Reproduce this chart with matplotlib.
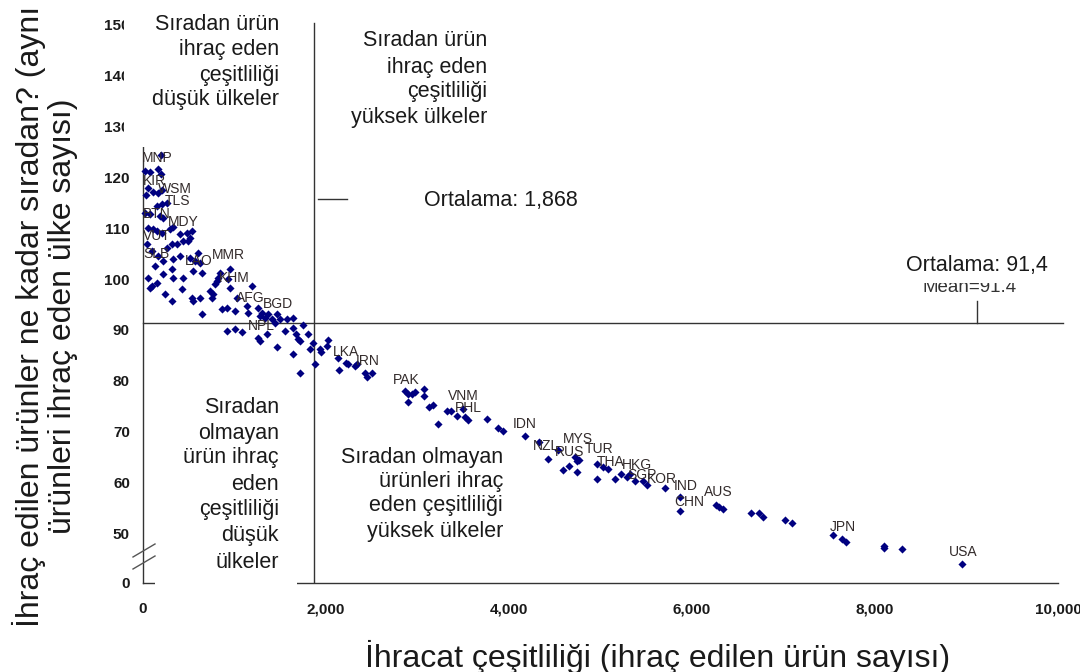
import matplotlib
matplotlib.use('Agg')
import matplotlib.pyplot as plt
from matplotlib.patches import Rectangle
from matplotlib.lines import Line2D

plt.rcParams['font.family'] = ['Liberation Sans', 'DejaVu Sans']

# ---------------- data ----------------
diversity = [
    197, 22, 77, 164, 197, 55, 109, 33, 164, 208, 262, 208, 153, 22, 77, 186, 219,
    55, 109, 153, 208, 295, 328, 404, 481, 536, 437, 492, 514, 372, 44, 98, 262, 317,
    164, 219, 131, 328, 404, 514, 601, 568, 623, 645, 547, 437, 317, 219, 55, 98, 77,
    153, 328, 240, 317, 426, 536, 547, 623, 645, 732, 765, 754, 842, 820, 787, 809,
    951, 929, 951, 863, 918, 1005, 1027, 1191, 1257, 1301, 1279, 1366, 1334, 1410,
    1465, 1498, 1574, 1640, 1443, 1137, 1148,
    918, 1005, 1082, 1279, 1257, 1355, 1465, 1552, 1640, 1672, 1694, 1716, 1749, 1640,
    1716, 1803, 1858, 1825, 1880, 1935, 1946, 2022, 2011, 2131, 2219, 2241, 2142, 2317,
    2339, 2426, 2448, 2503,
    2864, 2896, 2940, 2973, 2896, 3071, 3071, 3126, 3170, 3224, 3323, 3367, 3432, 3498,
    3520, 3553, 3760, 3880, 3935, 4175,
    4328, 4426, 4536, 4590, 4656, 4721, 4743, 4765, 4743, 4962, 4962, 5027, 5082, 5159,
    5224, 5290, 5323, 5377, 5465, 5508, 5705, 5869, 5869, 6263, 6296, 6339, 6645, 6733,
    6777, 7017, 7093, 7541, 7640, 7684, 8099, 8099, 8296, 8952,
]
ubiquity = [
    124.3, 121.3, 121.1, 121.5, 120.7, 117.8, 117.0, 116.4, 116.8, 117.4, 115.0, 114.8,
    114.4, 113.0, 112.8, 112.4, 112.0, 110.1, 109.9, 109.5, 109.1, 109.9, 110.3, 108.9,
    109.1, 109.5, 107.5, 107.5, 108.1, 106.9, 106.9, 105.6, 106.1, 106.9, 104.6, 103.6,
    102.6, 104.0, 104.6, 104.2, 105.2, 103.6, 103.2, 101.2, 101.6, 100.2, 102.0, 101.0,
    100.2, 98.7, 98.3, 99.3, 100.2, 97.1, 95.7, 98.1, 96.3, 95.7, 96.3, 93.2, 97.7, 97.1,
    96.3, 101.2, 100.2, 99.1, 99.6, 102.0, 100.0, 98.3, 94.1, 94.3, 93.7, 96.3, 98.7,
    94.3, 93.3, 92.8, 93.2, 92.4, 92.2, 93.2, 92.2, 92.2, 92.4, 91.4, 94.7, 93.3,
    89.8, 90.2, 89.6, 87.8, 88.4, 89.2, 86.7, 89.8, 90.4, 89.2, 88.2, 87.8, 91.0, 85.3,
    81.5, 89.2, 87.4, 86.3, 83.3, 86.3, 85.7, 88.0, 86.8, 84.5, 83.5, 83.3, 82.1, 82.9,
    83.3, 81.5, 80.7, 81.5,
    78.0, 77.4, 77.4, 77.8, 75.8, 78.4, 77.0, 74.8, 75.2, 71.5, 74.1, 74.1, 73.1, 74.4,
    72.9, 72.3, 72.5, 70.7, 70.1, 69.1,
    68.1, 64.6, 66.4, 62.6, 63.4, 65.0, 64.2, 64.4, 62.2, 60.7, 63.8, 63.2, 62.8, 60.7,
    61.8, 61.1, 61.8, 60.3, 60.3, 59.5, 58.9, 57.3, 54.4, 55.7, 55.3, 54.9, 54.0, 54.0,
    53.4, 52.8, 52.2, 49.8, 49.0, 48.4, 47.7, 47.3, 47.1, 44.1,
]

label_codes = ['MNP', 'KIR', 'WSM', 'TLS', 'BTN', 'MDY', 'VUT', 'SLB', 'LAO', 'MMR',
               'KHM', 'AFG', 'BGD', 'NPL', 'LKA', 'IRN', 'PAK', 'VNM', 'PHL', 'IDN',
               'NZL', 'MYS', 'RUS', 'TUR', 'THA', 'HKG', 'SGP', 'KOR', 'IND', 'CHN',
               'AUS', 'JPN', 'USA']
label_x = [-10, 0, 164, 240, 0, 273, 0, 0, 459, 754, 831, 1017, 1312, 1148, 2077, 2328,
           2733, 3334, 3410, 4044, 4263, 4591, 4503, 4831, 4962, 5235, 5290, 5509, 5804,
           5804, 6132, 7509, 8810]
label_y = [123.7, 119.3, 117.6, 115.4, 112.8, 111.1, 108.5, 105.0, 103.6, 104.8, 100.2,
           96.3, 95.1, 90.8, 85.7, 83.9, 80.2, 77.0, 74.6, 71.5, 67.2, 68.7, 66.0, 66.6,
           64.0, 63.6, 61.6, 60.7, 59.3, 56.3, 58.3, 51.4, 46.5]

mean_diversity = 1868
mean_ubiquity = 91.4

x_ticks = [0, 2000, 4000, 6000, 8000, 10000]
x_tick_labels = ['0', '2,000', '4,000', '6,000', '8,000', '10,000']
y_ticks = [40.35, 50, 60, 70, 80, 90, 100, 110, 120, 130, 140, 150]
y_tick_labels = ['0', '50', '60', '70', '80', '90', '100', '110', '120', '130', '140', '150']

x_label = 'İhracat çeşitliliği (ihraç edilen ürün sayısı)'
y_label = 'İhraç edilen ürünler ne kadar sıradan? (aynı\nürünleri ihraç eden ülke sayısı)'

tl_lines = ['Sıradan ürün', 'ihraç eden', 'çeşitliliği', 'düşük ülkeler']
tr_lines = ['Sıradan ürün', 'ihraç eden', 'çeşitliliği', 'yüksek ülkeler']
ll_lines = ['Sıradan', 'olmayan', 'ürün ihraç', 'eden', 'çeşitliliği', 'düşük', 'ülkeler']
lr_lines = ['Sıradan olmayan', 'ürünleri ihraç', 'eden çeşitliliği', 'yüksek ülkeler']
mean_x_text = 'Ortalama: 1,868'
mean_y_text = 'Ortalama: 91,4'
mean_y_text_old = 'Mean=91.4'

# ---------------- layout ----------------
W, H = 1080, 672
fig = plt.figure(figsize=(W / 100, H / 100), dpi=100)


def fx(px):
    return px / W


def fy(py):
    return 1 - py / H


YMIN, YMAX = 40.35, 154.76
ax = fig.add_axes([fx(143), fy(583), fx(1058) - fx(143), fy(0) - fy(583)])
ax.set_xlim(0, 10000)
ax.set_ylim(YMIN, YMAX)
for s in ['top', 'right']:
    ax.spines[s].set_visible(False)
for s in ['left', 'bottom']:
    ax.spines[s].set_color('#333333')
    ax.spines[s].set_linewidth(1.0)

ax.set_xticks(x_ticks)
ax.set_xticklabels(x_tick_labels)
ax.set_yticks(y_ticks)
ax.set_yticklabels(y_tick_labels)
ax.tick_params(axis='both', length=0, labelsize=11, labelcolor='#1a1a1a')
ax.tick_params(axis='y', pad=9.4)
ax.tick_params(axis='x', pad=14)
for t in ax.get_xticklabels() + ax.get_yticklabels():
    t.set_fontweight('bold')

line_c = '#333333'
ax.plot([mean_diversity, mean_diversity], [YMIN, 150.2], color=line_c, lw=1.0, zorder=2)
ax.plot([0, 10055], [mean_ubiquity, mean_ubiquity], color=line_c, lw=1.0, zorder=2,
        clip_on=False)
# small pointer ticks next to the mean annotations
ax.plot([1913, 2230], [115.8, 115.8], color=line_c, lw=1.0)
ax.plot([9115, 9115], [mean_ubiquity, 95.7], color=line_c, lw=1.0)

ax.scatter(diversity, ubiquity, marker='D', s=17, c='#000080', linewidths=0,
           zorder=3, clip_on=False)

for code, lx, ly in zip(label_codes, label_x, label_y):
    ax.text(lx, ly, code, fontsize=10, color='#332b2b', ha='left', va='center',
            zorder=4)

# ---------------- figure-level overlays ----------------
def white_box(x0, y0, x1, y1, z):
    fig.add_artist(Rectangle((fx(x0), fy(y1)), fx(x1) - fx(x0), fy(y0) - fy(y1),
                             transform=fig.transFigure, facecolor='white',
                             edgecolor='none', zorder=z))


white_box(124, 0, 296, 147, 5)
white_box(155, 392, 297, 592, 5)

TXT = dict(fontsize=15.5, color='#1a1a1a', zorder=8)
for ln, py in zip(tl_lines, [24, 50, 76, 100]):
    fig.text(fx(279), fy(py), ln, ha='right', va='center', **TXT)
for ln, py in zip(tr_lines, [41, 67, 92, 117]):
    fig.text(fx(487), fy(py), ln, ha='right', va='center', **TXT)
for ln, py in zip(ll_lines, [408, 433, 458, 484, 510, 536, 562]):
    fig.text(fx(279), fy(py), ln, ha='right', va='center', **TXT)
for ln, py in zip(lr_lines, [457, 481, 506, 531]):
    fig.text(fx(503), fy(py), ln, ha='right', va='center', **TXT)

fig.text(fx(424), fy(200), mean_x_text, ha='left', va='center', **TXT)

fig.text(fx(970), fy(288), mean_y_text_old, ha='center', va='center', fontsize=13.5,
         color='#333333', zorder=6)
white_box(900, 248, 1060, 283, 7)
fig.text(fx(1048), fy(265), mean_y_text, ha='right', va='center', **TXT)

# axis break marks
for y0 in [557, 569]:
    fig.add_artist(Line2D([fx(133), fx(155)], [fy(y0), fy(y0 - 13)],
                          transform=fig.transFigure, color='#555555', lw=1.0, zorder=9))

fig.text(fx(658), fy(657), x_label, ha='center', va='center', fontsize=23,
         color='#1a1a1a', zorder=8)
fig.text(fx(45), fy(316), y_label, ha='center', va='center', fontsize=23,
         rotation=90, multialignment='center', linespacing=1.1, color='#1a1a1a',
         zorder=8)

fig.savefig('out.png', dpi=100)
